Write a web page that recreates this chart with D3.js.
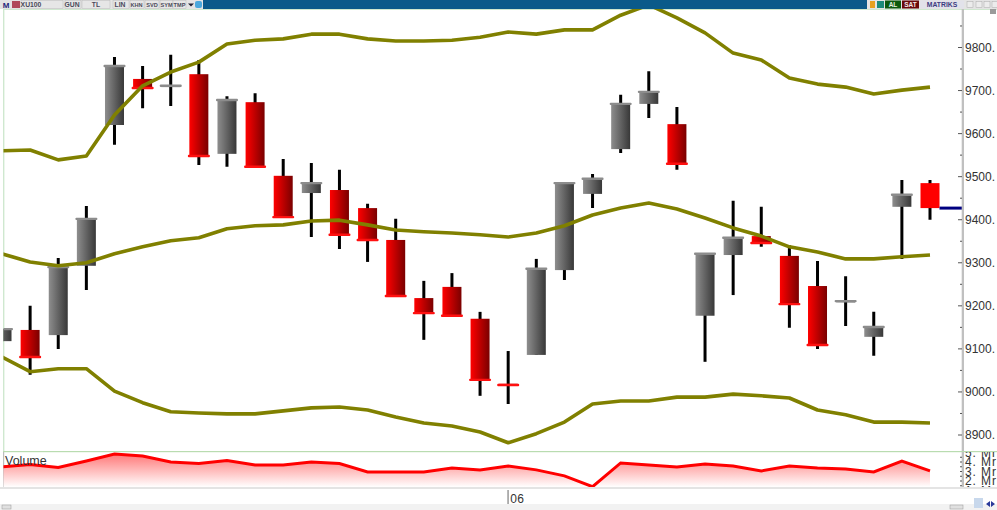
<!DOCTYPE html>
<html><head><meta charset="utf-8">
<script src="https://cdn.jsdelivr.net/npm/d3@7"></script>
<style>html,body{margin:0;padding:0;background:#fff;overflow:hidden}svg{display:block}text{font-family:"Liberation Sans",sans-serif}</style>
</head><body><svg id="c" width="997" height="510"></svg>
<script>
const opens=[9118,9144,9132,9293,9620,9727,9708,9738,9553,9673,9502,9462,9469,9427,9353,9218,9244,9170,9019,9086,9283,9460,9564,9669,9622,9177,9318,9362,9316,9246,9208,9128,9430,9485];
const closes=[9146,9081,9290,9402,9757,9706,9711,9548,9678,9523,9406,9485,9365,9353,9223,9183,9177,9028,9016,9286,9485,9495,9669,9697,9530,9321,9358,9346,9204,9109,9211,9151,9458,9427];
const highs=[9146,9200,9311,9432,9778,9757,9783,9771,9687,9694,9541,9532,9516,9437,9402,9258,9276,9186,9095,9309,9485,9506,9690,9745,9662,9321,9444,9430,9341,9304,9269,9186,9492,9492];
const lows=[9118,9040,9100,9237,9574,9659,9664,9527,9523,9523,9406,9360,9332,9302,9223,9121,9177,8991,8972,9086,9260,9427,9555,9636,9516,9070,9225,9337,9149,9100,9153,9084,9309,9400];
const upper=[9560,9562,9539,9548,9643,9711,9743,9766,9808,9817,9820,9831,9831,9820,9815,9815,9817,9824,9836,9831,9841,9841,9875,9899,9869,9834,9787,9771,9729,9715,9708,9692,9701,9708];
const middle=[9321,9302,9293,9300,9321,9337,9351,9358,9379,9386,9388,9397,9399,9388,9376,9372,9369,9365,9360,9369,9386,9411,9427,9439,9425,9404,9381,9362,9337,9325,9309,9309,9314,9318];
const lower=[9081,9047,9054,9054,9002,8975,8954,8951,8949,8949,8956,8963,8965,8958,8942,8928,8921,8907,8882,8903,8930,8972,8979,8979,8988,8988,8995,8991,8986,8958,8947,8930,8930,8928];
const volume=[3.48,3.74,3.43,4.10,4.83,4.63,4.00,3.84,4.16,3.69,3.69,4.00,3.84,2.96,2.96,2.96,3.38,3.17,3.58,3.17,2.54,1.40,3.90,3.69,3.48,3.79,3.58,3.06,3.58,3.38,3.27,2.96,4.10,3.06];
const priceTicks=[8900,9000,9100,9200,9300,9400,9500,9600,9700,9800];
const priceMinor=[8850,8950,9050,9150,9250,9350,9450,9550,9650,9750,9850];
const volTicks=[1,2,3,4,5];
const volLabels=["1. Mr","2. Mr","3. Mr","4. Mr","5. Mr"];
const lastPrice=9427;
const toolLabels=["XU100","GUN","TL","LIN","KHN","SVD","SYM","TMP"];
const dateLabel="06";
const dateIndex=18;

const svg=d3.select("#c");
const defs=svg.append("defs");
function grad(id,a,b){const g=defs.append("linearGradient").attr("id",id);g.append("stop").attr("offset","0").attr("stop-color",a);g.append("stop").attr("offset","1").attr("stop-color",b);}
grad("gUp","#8e8e8e","#383838");
grad("gDn","#ff0000","#7a0000");
const vg=defs.append("linearGradient").attr("id","gVol").attr("x1",0).attr("x2",0).attr("y1",0).attr("y2",1);
vg.append("stop").attr("offset","0").attr("stop-color","#ff7878");
vg.append("stop").attr("offset","1").attr("stop-color","#ffffff");
defs.append("clipPath").attr("id","cpMain").append("rect").attr("x",3.5).attr("y",9).attr("width",958).attr("height",442);
defs.append("clipPath").attr("id","cpVol").append("rect").attr("x",3.5).attr("y",452).attr("width",958).attr("height",35);
defs.append("clipPath").attr("id","cpVolAxis").append("rect").attr("x",955).attr("y",452).attr("width",42).attr("height",35);

const x=d3.scaleLinear().domain([0,33]).range([2,930]);
const y=d3.scaleLinear().domain([8900,9800]).range([435,47.5]);
const yV=d3.scaleLinear().domain([2,4]).range([481,462]);

// frame
svg.append("rect").attr("x",0).attr("y",504).attr("width",997).attr("height",6).attr("fill","#f2f2f2");
svg.append("rect").attr("x",3).attr("y",451).attr("width",994).attr("height",1.2).attr("fill","#b9dcb0");
svg.append("rect").attr("x",0).attr("y",487).attr("width",997).attr("height",2).attr("fill","#e4e4e4");
svg.append("rect").attr("x",3).attr("y",9).attr("width",994).attr("height",1).attr("fill","#cfe8cf");
svg.append("rect").attr("x",3).attr("y",9).attr("width",1.4).attr("height",442).attr("fill","#cfe8cf");
svg.append("rect").attr("x",3).attr("y",452).attr("width",1.2).attr("height",35).attr("fill","#bdbdbd");

// candles
const main=svg.append("g").attr("clip-path","url(#cpMain)");
const idx=d3.range(opens.length);
const bw=19;
main.selectAll("line.w").data(idx).join("line").attr("x1",i=>x(i)).attr("x2",i=>x(i))
 .attr("y1",i=>y(highs[i])).attr("y2",i=>y(lows[i])).attr("stroke","#000").attr("stroke-width",3);
main.selectAll("rect.b").data(idx).join("rect")
 .attr("x",i=>x(i)-bw/2).attr("width",bw)
 .attr("y",i=>y(Math.max(opens[i],closes[i])))
 .attr("height",i=>Math.abs(y(opens[i])-y(closes[i])))
 .attr("fill",i=>closes[i]>=opens[i]?"url(#gUp)":(i===33?"#ff0000":"url(#gDn)"));
main.selectAll("rect.c").data(idx.filter(i=>i!==33)).join("rect")
 .attr("x",i=>x(i)-bw/2-1.5).attr("width",bw+3).attr("height",2.4).attr("rx",1)
 .attr("y",i=>y(closes[i])-1.2)
 .attr("fill",i=>closes[i]>=opens[i]?"#8c8c8c":"#ff1010");

// bands
const line=d3.line().x((d,i)=>x(i)).y(d=>y(d));
[upper,middle,lower].forEach(s=>main.append("path").attr("d",line(s)).attr("fill","none").attr("stroke","#808000").attr("stroke-width",3.6).attr("stroke-linejoin","round"));

// last price marker
svg.append("line").attr("x1",x(33)+9.5).attr("x2",962).attr("y1",y(lastPrice)).attr("y2",y(lastPrice)).attr("stroke","#000080").attr("stroke-width",3);

// price axis
svg.append("rect").attr("x",961.7).attr("y",9).attr("width",2.3).attr("height",442).attr("fill","#c0c0c0");
const axP=d3.axisRight(y).tickValues(priceTicks).tickFormat(d=>d+".").tickSize(0).tickPadding(0);
const gP=svg.append("g").attr("transform","translate(965,0)").call(axP);
gP.select(".domain").remove();
gP.selectAll("text").attr("font-size",12).attr("fill","#333").attr("x",0);
svg.append("g").selectAll("line").data(priceTicks).join("line").attr("x1",958).attr("x2",962).attr("y1",d=>y(d)).attr("y2",d=>y(d)).attr("stroke","#555");
svg.append("g").selectAll("line").data(priceMinor.filter(d=>y(d)>10&&y(d)<450)).join("line").attr("x1",960).attr("x2",962).attr("y1",d=>y(d)).attr("y2",d=>y(d)).attr("stroke","#555");

// volume
const vol=svg.append("g").attr("clip-path","url(#cpVol)");
vol.append("path").attr("d",d3.area().x((d,i)=>x(i)).y0(487).y1(d=>yV(d))(volume)).attr("fill","url(#gVol)");
vol.append("path").attr("d",d3.line().x((d,i)=>x(i)).y(d=>yV(d))(volume)).attr("fill","none").attr("stroke","#ff0000").attr("stroke-width",3);
svg.append("text").attr("x",5).attr("y",465).attr("font-size",12.5).attr("fill","#333").text("Volume");
svg.append("rect").attr("x",961.7).attr("y",452).attr("width",2.3).attr("height",35).attr("fill","#c0c0c0");
const axV=d3.axisRight(yV).tickValues(volTicks).tickFormat((d,i)=>volLabels[i]).tickSize(0).tickPadding(0);
const gV=svg.append("g").attr("clip-path","url(#cpVolAxis)").append("g").attr("transform","translate(965,0)").call(axV);
gV.select(".domain").remove();
gV.selectAll("text").attr("font-size",12).attr("fill","#333").attr("x",0).attr("letter-spacing",0.9);
svg.append("g").selectAll("line").data([1.5,2,2.5,3,3.5,4,4.5]).join("line").attr("x1",960).attr("x2",962).attr("y1",d=>yV(d)).attr("y2",d=>yV(d)).attr("stroke","#555");

// date
svg.append("rect").attr("x",x(dateIndex)-1).attr("width",1.8).attr("y",490).attr("height",14).attr("fill","#aaa");
svg.append("text").attr("x",x(dateIndex)+2).attr("y",503).attr("font-size",12).attr("letter-spacing",0.3).attr("fill","#333").text(dateLabel);

// toolbar
const tb=svg.append("g");
tb.append("rect").attr("width",997).attr("height",9).attr("fill","#e4e4e4");
tb.append("rect").attr("x",203).attr("width",664).attr("height",9).attr("fill","#0b5a8a");
[[21,42],[65,16],[82,28],[113,16],[130,14],[145,14],[160,13],[173,13]].forEach((s,i)=>{
 tb.append("rect").attr("x",s[0]).attr("y",0.5).attr("width",s[1]).attr("height",8).attr("fill","#e6e6e6").attr("stroke","#bbb").attr("stroke-width",0.5);
});
const tx=[31,72,96,120,136.5,152,166.5,179.5];
toolLabels.forEach((t,i)=>tb.append("text").attr("x",tx[i]).attr("y",7).attr("text-anchor","middle").attr("font-size",i>3?5.6:6.8).attr("font-weight","bold").attr("fill","#4a4a5a").text(t));
tb.append("text").attr("x",6).attr("y",7.5).attr("text-anchor","middle").attr("font-size",8).attr("font-weight","bold").attr("fill","#26267a").text("M");
tb.append("rect").attr("x",12).attr("y",1).attr("width",8).attr("height",7).attr("fill","#b04a5a");
tb.append("rect").attr("x",195).attr("y",1).attr("width",7).attr("height",7).attr("rx",2).attr("fill","#4aa8dc");
tb.append("path").attr("d","M188 3.5h6l-3 3z").attr("fill","#223");
tb.append("rect").attr("x",870).attr("y",1).attr("width",5).attr("height",7).attr("fill","#e8a020");
tb.append("rect").attr("x",877).attr("y",1).attr("width",7).attr("height",7).attr("fill","#1c8a7a");
tb.append("rect").attr("x",885).attr("y",0.5).attr("width",16).attr("height",8).attr("fill","#0c5a0c");
tb.append("rect").attr("x",902).attr("y",0.5).attr("width",17).attr("height",8).attr("fill","#6a0a0a");
tb.append("text").attr("x",893).attr("y",7).attr("text-anchor","middle").attr("font-size",6.5).attr("font-weight","bold").attr("fill","#e8f0e8").text("AL");
tb.append("text").attr("x",910.5).attr("y",7).attr("text-anchor","middle").attr("font-size",6.5).attr("font-weight","bold").attr("fill","#f4e8e8").text("SAT");
tb.append("rect").attr("x",920).attr("y",0.5).attr("width",44).attr("height",8).attr("fill","#e2e2ea");
tb.append("text").attr("x",942).attr("y",7).attr("text-anchor","middle").attr("font-size",6.8).attr("font-weight","bold").attr("fill","#3c3c80").text("MATRIKS");
[967,976,984,992].forEach(v=>tb.append("rect").attr("x",v).attr("y",1.5).attr("width",6).attr("height",6).attr("fill","#ececec").attr("stroke","#aaa").attr("stroke-width",0.5));
tb.append("rect").attr("x",990).attr("y",9).attr("width",6).attr("height",5).attr("fill","#9a9a9a");

// status-strip controls
svg.append("rect").attr("x",2).attr("y",505).attr("width",9).attr("height",4).attr("fill","#e0e0e0").attr("stroke","#999").attr("stroke-width",0.5);
svg.append("rect").attr("x",950).attr("y",505).attr("width",13).attr("height",4).attr("fill","#e0e0e0").attr("stroke","#999").attr("stroke-width",0.5);
svg.append("rect").attr("x",974).attr("y",498).attr("width",9).attr("height",10).attr("fill","#c8d8ec");
svg.append("path").attr("d","M990 501v6l-4-3zM991 501v6l4-3z").attr("fill","#2a3a9a");
</script></body></html>
